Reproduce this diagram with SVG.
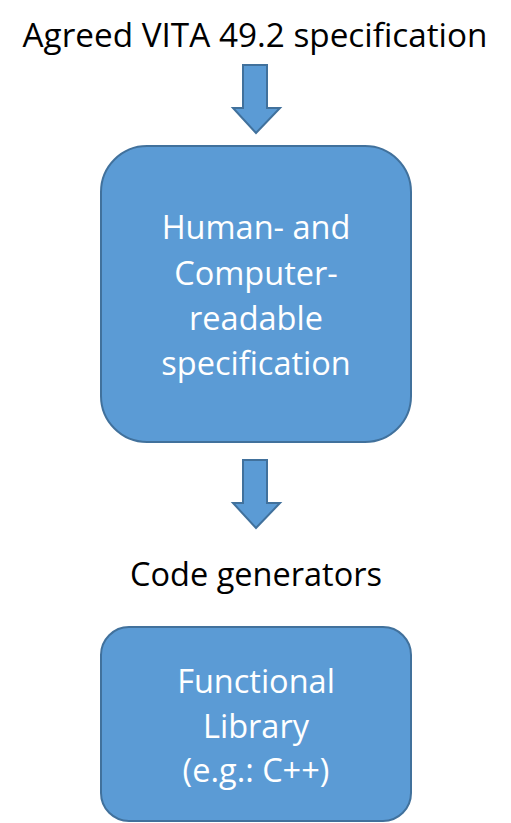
<svg xmlns="http://www.w3.org/2000/svg" width="511" height="823" viewBox="0 0 511 823">
<style>
.shape{fill:#5B9BD5;stroke:#41719C;stroke-width:2}
.lbl{font-family:"Open Sans","Liberation Sans",sans-serif;font-size:32.5px;text-anchor:middle}
.t{font-size:33.3px}
.w{fill:#FFFFFF}
.k{fill:#000000}
</style>
<rect width="511" height="823" fill="#FFFFFF"/>
<g id="spec-title"><text class="lbl t k" x="255" y="47">Agreed VITA 49.2 specification</text></g>
<g id="spec-box">
<rect class="shape" x="101" y="146" width="310" height="296" rx="46" ry="46"/>
<text class="lbl w" x="256" y="239">Human- and</text>
<text class="lbl w" x="256" y="285">Computer-</text>
<text class="lbl w" x="256" y="330">readable</text>
<text class="lbl w" x="256" y="375">specification</text>
</g>
<g id="codegen"><text class="lbl k" x="256" y="586">Code generators</text></g>
<g id="lib-box">
<rect class="shape" x="101" y="627" width="310" height="194" rx="28" ry="28"/>
<text class="lbl w" x="256" y="693">Functional</text>
<text class="lbl w" x="256" y="738">Library</text>
<text class="lbl w" x="256" y="782">(e.g.: C++)</text>
</g>
<g id="connectors">
<path class="shape" d="M243,65 H267 V108 H280 L256,133 L233,108 H243 Z"/>
<path class="shape" d="M243,460 H267 V503 H280 L256,528 L233,503 H243 Z"/>
</g>
</svg>
